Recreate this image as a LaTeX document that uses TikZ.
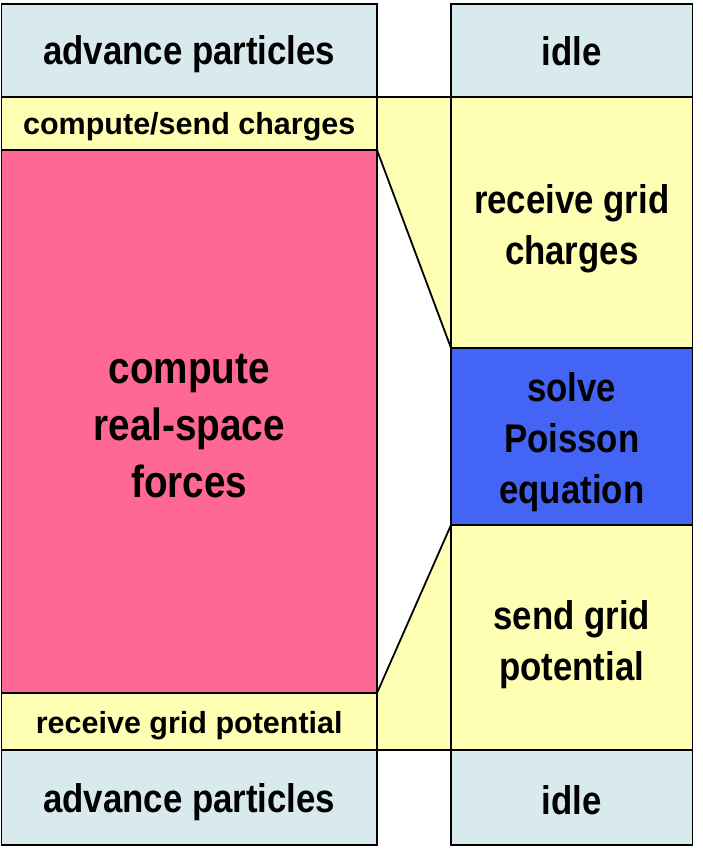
\documentclass[tikz,border=0pt]{standalone}
\usepackage{fontspec}
\setmainfont{Liberation Sans}
\newfontfamily\narrowfont{Liberation Sans}[FakeStretch=0.87]
\newfontfamily\pinkfont{Liberation Sans}[FakeStretch=0.86]
\definecolor{lblue}{RGB}{216,234,237}
\definecolor{lyellow}{RGB}{255,255,179}
\definecolor{lpink}{RGB}{255,104,148}
\definecolor{lsolve}{RGB}{68,100,245}
\tikzset{
  box/.style={rectangle, draw=black, line width=1.8pt, outer sep=0pt, inner sep=0pt},
  txt/.style={inner sep=0pt, align=center, text=black},
  bigtxt/.style={txt, font=\narrowfont\bfseries\fontsize{40}{51}\selectfont},
  smalltxt/.style={txt, font=\bfseries\fontsize{30.5}{36}\selectfont},
  pinktxt/.style={txt, font=\pinkfont\bfseries\fontsize{45}{57}\selectfont},
  leftcol/.style={box, minimum width=375.5pt},
  rightcol/.style={box, minimum width=241.5pt},
  link/.style={draw=black, line width=1.8pt},
}
\begin{document}
\begin{tikzpicture}[x=1pt,y=-1pt]
\useasboundingbox (0,0) rectangle (702,851);
% left column
\node[leftcol, fill=lblue, minimum height=93pt] (apt) at (189.25,50.5) {};
\node[leftcol, fill=lyellow, minimum height=53pt] (csc) at (189.25,123.5) {};
\node[leftcol, fill=lpink, minimum height=543pt] (pink) at (189.25,421.5) {};
\node[leftcol, fill=lyellow, minimum height=57pt] (rgp) at (189.25,721.5) {};
\node[leftcol, fill=lblue, minimum height=95pt] (apb) at (189.25,797.5) {};
% right column
\node[rightcol, fill=lblue, minimum height=93pt] (idt) at (571.75,50.5) {};
\node[rightcol, fill=lyellow, minimum height=251pt] (rgc) at (571.75,222.5) {};
\node[rightcol, fill=lsolve, minimum height=177pt] (solve) at (571.75,436.5) {};
\node[rightcol, fill=lyellow, minimum height=225pt] (sgp) at (571.75,637.5) {};
\node[rightcol, fill=lblue, minimum height=95pt] (idb) at (571.75,797.5) {};
% texts
\node[bigtxt, yshift=-4pt] (taptop) at (apt.center) {advance particles};
\node[smalltxt, yshift=-3pt] (tcsc) at (csc.center) {compute/send charges};
\node[pinktxt, yshift=-5pt] (tpink) at (pink.center) {compute\\real-space\\forces};
\node[smalltxt, yshift=-4pt] (trgp) at (rgp.center) {receive grid potential};
\node[bigtxt, yshift=-4.5pt] (tapbot) at (apb.center) {advance particles};
\node[bigtxt, yshift=-1pt] (tidt) at (idt.center) {idle};
\node[bigtxt, yshift=-6pt] (trgc) at (rgc.center) {receive grid\\charges};
\node[bigtxt, yshift=-5.5pt] (tsolve) at (solve.center) {solve\\Poisson\\equation};
\node[bigtxt, yshift=-7pt] (tsgp) at (sgp.center) {send grid\\potential};
\node[bigtxt, yshift=-3pt] (tidb) at (idb.center) {idle};
% connectors
\fill[lyellow] (csc.north east) -- (rgc.north west) -- (solve.north west) -- (pink.north east) -- cycle;
\fill[lyellow] (pink.south east) -- (solve.south west) -- (sgp.south west) -- (rgp.south east) -- cycle;
\draw[link] (csc.north east) -- (rgc.north west);
\draw[link] (pink.north east) -- (solve.north west);
\draw[link] (pink.south east) -- (solve.south west);
\draw[link] (rgp.south east) -- (sgp.south west);
% redraw column borders on top
\draw[link] (csc.north east) -- (pink.north east);
\draw[link] (pink.south east) -- (rgp.south east);
\draw[link] (rgc.north west) -- (solve.north west);
\draw[link] (solve.south west) -- (sgp.south west);
\end{tikzpicture}
\end{document}
